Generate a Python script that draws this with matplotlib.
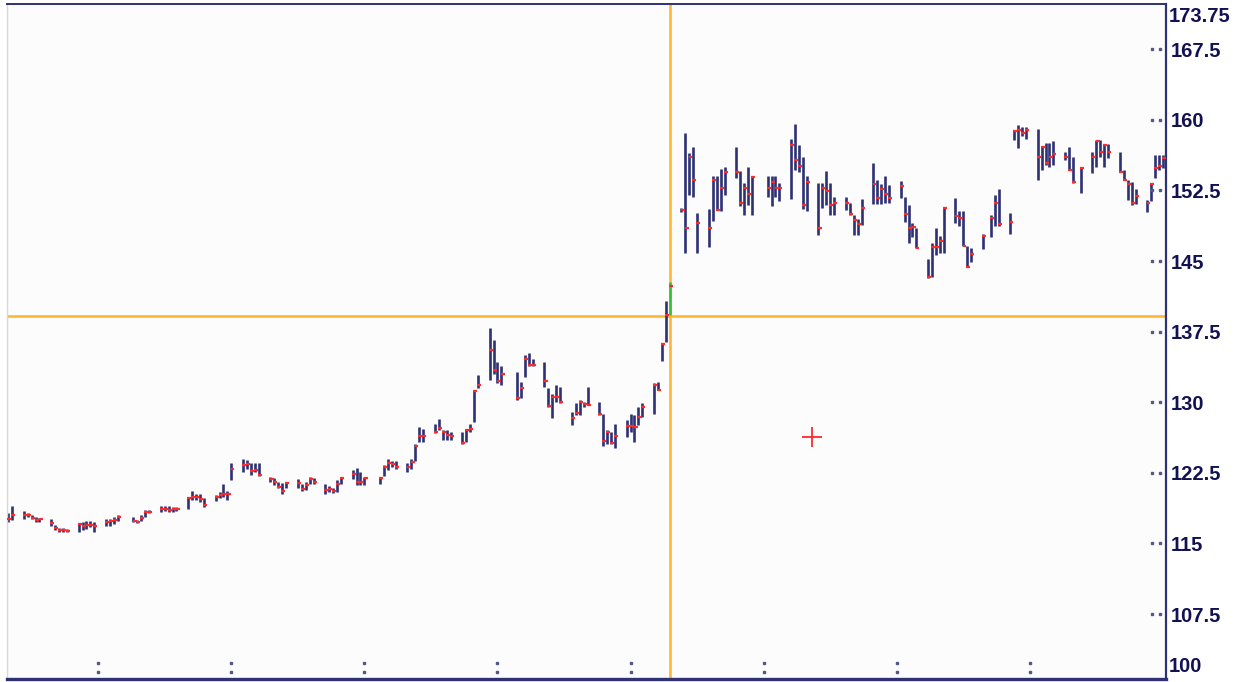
import matplotlib
matplotlib.use('Agg')
import matplotlib.pyplot as plt

# calendar day offset of each bar, with high / low / close
day = [0, 1, 4, 5, 6, 7, 8, 11, 12, 13, 14, 15, 18, 19, 20, 21, 22, 25, 26, 27, 28,
       32, 33, 34, 35, 36, 39, 40, 41, 42, 43, 46, 47, 48, 49, 50, 53, 54, 55, 56, 57,
       60, 61, 62, 63, 64, 67, 68, 69, 70, 71, 74, 75, 76, 77, 78, 81, 82, 83, 84, 85,
       88, 89, 90, 91, 95, 96, 97, 98, 99, 102, 103, 104, 105, 106, 109, 110, 111, 112, 113,
       116, 117, 118, 119, 120, 123, 124, 125, 126, 130, 131, 132, 133, 134,
       137, 138, 139, 140, 141, 144, 145, 146, 147, 148, 151, 152, 153, 154, 155,
       158, 159, 160, 161, 162, 165, 166, 167, 168, 169, 172, 173, 174, 175, 176,
       179, 180, 181, 182, 183, 186, 187, 188, 189, 190, 194, 195, 196, 197,
       200, 201, 202, 203, 204, 207, 208, 209, 210, 211, 214, 215, 216, 217, 218,
       221, 222, 223, 224, 225, 228, 229, 230, 231, 232, 235, 236, 237, 238, 239,
       242, 243, 244, 245, 246, 249, 251, 252, 253, 256, 257, 258, 259, 260,
       263, 264, 265, 266, 267, 270, 271, 272, 274, 277, 278, 279, 280, 281,
       284, 285, 286, 287, 288, 291, 292, 293, 294, 295]
high = [118.2, 119.0, 118.4, 118.2, 118.0, 117.8, 117.7, 117.6, 117.0, 116.6, 116.6, 116.5,
        117.2, 117.3, 117.4, 117.4, 117.3, 117.6, 117.6, 117.8, 118.0,
        117.8, 117.5, 118.0, 118.5, 118.5, 119.0, 119.0, 119.0, 118.9, 118.9,
        119.9, 120.6, 120.3, 120.3, 119.8, 120.1, 120.5, 121.3, 120.6, 123.5,
        124.0, 123.9, 123.5, 123.5, 123.5, 122.1, 121.9, 121.5, 121.4, 121.5,
        121.8, 121.3, 121.5, 122.1, 121.9, 121.3, 121.1, 120.9, 121.7, 122.0,
        122.8, 123.0, 122.6, 122.1, 122.1, 123.3, 124.0, 123.8, 123.8,
        123.5, 124.0, 125.6, 127.4, 127.2, 127.7, 128.2, 127.1, 127.0, 126.8,
        126.8, 127.2, 127.7, 131.3, 132.9, 137.9, 136.6, 134.3, 133.8,
        133.2, 132.2, 135.0, 135.2, 134.6, 134.3, 131.5, 130.9, 131.8, 131.6,
        129.0, 129.9, 130.2, 130.0, 131.6, 130.0, 128.8, 127.0, 126.8, 127.7,
        128.1, 128.8, 128.6, 129.5, 129.9, 132.0, 132.2, 136.2, 140.7, 142.8,
        150.6, 158.6, 156.5, 157.1, 150.1, 150.5, 154.0, 154.0, 154.8, 155.0,
        157.1, 154.6, 153.3, 155.0, 154.0, 154.0, 154.0, 154.0, 153.3,
        158.0, 159.6, 157.3, 156.0, 154.0, 153.3, 153.3, 154.6, 153.3, 151.8,
        151.8, 151.2, 149.9, 149.5, 151.6, 155.4, 153.6, 153.2, 154.0, 153.1,
        153.5, 151.8, 151.0, 149.0, 148.5, 145.2, 146.9, 148.5, 147.7, 150.7,
        151.7, 150.3, 150.3, 146.6, 146.4, 147.9, 149.9, 152.0, 152.6,
        150.1, 158.9, 159.4, 159.2, 159.2, 159.0, 157.2, 157.5, 157.5, 157.8,
        156.6, 157.1, 156.1, 154.9, 156.6, 157.9, 157.9, 157.4, 157.4,
        156.6, 154.7, 153.6, 153.4, 152.6, 151.5, 153.2, 156.3, 156.3, 156.3]
low = [117.3, 117.5, 117.6, 117.8, 117.6, 117.3, 117.3, 116.9, 116.4, 116.2, 116.2, 116.2,
       116.2, 116.4, 116.5, 116.7, 116.2, 116.8, 116.9, 117.1, 117.4,
       117.3, 117.2, 117.4, 117.8, 118.2, 118.3, 118.4, 118.3, 118.3, 118.4,
       118.7, 119.6, 119.6, 119.4, 118.9, 119.5, 119.8, 119.9, 119.6, 121.7,
       122.6, 122.9, 122.3, 122.6, 122.2, 121.5, 121.2, 120.9, 120.3, 120.9,
       120.9, 120.6, 120.7, 121.3, 121.3, 120.3, 120.5, 120.4, 120.5, 121.3,
       121.8, 121.2, 121.2, 121.2, 121.3, 122.2, 122.8, 123.1, 122.9,
       122.6, 122.9, 123.8, 125.8, 125.8, 126.7, 127.0, 126.0, 126.0, 126.0,
       125.6, 125.8, 126.8, 127.9, 131.5, 132.4, 133.0, 132.0, 131.8,
       130.2, 130.4, 132.7, 133.9, 133.8, 131.6, 129.5, 128.3, 130.0, 129.9,
       127.6, 128.6, 128.6, 129.5, 129.7, 128.6, 125.4, 125.6, 125.6, 125.1,
       126.3, 126.8, 125.8, 127.6, 128.4, 128.8, 131.3, 134.4, 136.4, 139.3,
       150.2, 145.9, 152.0, 151.8, 145.9, 146.5, 149.3, 150.4, 150.3, 152.0,
       153.8, 150.8, 149.9, 151.0, 149.9, 151.8, 150.8, 151.8, 151.4,
       151.6, 154.7, 154.5, 150.5, 150.3, 147.8, 150.6, 151.0, 149.9, 149.9,
       150.4, 149.9, 147.8, 147.8, 148.8, 151.1, 151.1, 151.1, 151.2, 151.2,
       151.7, 149.1, 146.9, 147.6, 146.4, 143.2, 143.3, 145.6, 145.8, 145.9,
       149.0, 148.7, 146.6, 144.4, 144.9, 146.3, 147.6, 148.7, 148.7,
       147.9, 157.9, 157.0, 158.3, 158.0, 153.6, 154.7, 155.2, 155.0, 155.2,
       155.7, 154.7, 153.3, 152.2, 154.4, 155.0, 156.1, 155.0, 155.9,
       154.5, 153.6, 151.5, 151.0, 151.1, 150.2, 151.4, 153.8, 154.7, 154.9]
close = [117.6, 118.0, 118.0, 118.0, 117.7, 117.5, 117.6, 117.2, 116.6, 116.4, 116.4, 116.3,
         117.1, 116.8, 117.0, 117.0, 116.9, 117.3, 117.4, 117.5, 117.8,
         117.4, 117.3, 117.7, 118.3, 118.3, 118.7, 118.7, 118.6, 118.7, 118.7,
         119.8, 119.9, 119.9, 119.7, 119.1, 119.9, 120.1, 120.2, 120.2, 122.9,
         123.3, 123.4, 122.7, 122.8, 122.3, 121.8, 121.5, 121.0, 120.6, 121.4,
         121.4, 120.8, 121.2, 121.8, 121.5, 120.7, 120.8, 120.6, 121.3, 121.9,
         122.4, 121.5, 121.5, 121.9, 122.0, 123.1, 123.5, 123.4, 123.1,
         123.1, 123.6, 125.4, 126.4, 126.4, 126.8, 127.3, 126.8, 126.5, 126.4,
         125.7, 127.0, 127.2, 131.2, 131.8, 135.5, 133.4, 132.3, 133.0,
         130.4, 131.5, 134.6, 134.0, 134.0, 132.3, 129.6, 130.6, 130.6, 130.0,
         128.3, 128.9, 130.0, 129.8, 129.7, 128.7, 125.9, 126.8, 125.7, 126.4,
         127.5, 127.5, 127.4, 128.4, 129.5, 131.8, 131.3, 136.2, 139.3, 142.3,
         150.4, 148.5, 156.0, 153.6, 149.0, 148.5, 153.6, 150.4, 152.8, 154.5,
         154.5, 151.2, 152.8, 152.1, 153.9, 152.8, 153.4, 152.8, 152.8,
         157.3, 155.7, 155.1, 150.9, 153.4, 148.5, 152.8, 152.4, 151.0, 151.2,
         151.2, 150.0, 149.4, 148.9, 150.6, 153.2, 151.7, 152.6, 152.1, 151.7,
         153.0, 150.0, 148.5, 148.6, 146.4, 143.3, 146.5, 146.5, 147.1, 150.6,
         149.8, 149.6, 146.6, 144.4, 145.7, 147.7, 149.6, 151.2, 148.9,
         149.1, 158.8, 158.9, 158.6, 158.9, 156.0, 157.1, 155.4, 156.1, 156.4,
         156.1, 154.7, 153.4, 154.9, 156.0, 157.8, 156.6, 157.3, 156.6,
         154.5, 153.6, 153.2, 151.2, 151.9, 151.2, 153.2, 154.9, 155.1, 155.9]

cursor_day = 169        # bar under the crosshair
cursor_price = 139.15
marker_day = 205.4      # red cross
marker_price = 126.3
grid_days = [23, 57, 91, 125, 159, 193, 227, 261]
price_ticks = [107.5, 115, 122.5, 130, 137.5, 145, 152.5, 160, 167.5]

navy = '#2e3173'
red = '#ff2a2a'
orange = '#ffb733'
green = '#34c234'
label_col = '#121252'
fam = ['Liberation Sans', 'DejaVu Sans']

fig = plt.figure(figsize=(12.43, 6.82), dpi=100, facecolor='white')
ax = fig.add_axes([7 / 1243, 3 / 682, 1158.7 / 1243, 675 / 682])
ax.set_facecolor('#fcfcfc')

# crosshair behind the bars
ax.axvline(cursor_day, color=orange, lw=1.9, zorder=1)
ax.axhline(cursor_price, color=orange, lw=1.9, zorder=1)

norm = [i for i, d in enumerate(day) if d != cursor_day]
cur = [i for i, d in enumerate(day) if d == cursor_day]
ax.vlines([day[i] for i in norm], [low[i] for i in norm], [high[i] for i in norm],
          color=navy, lw=1.9, zorder=2)
ax.vlines([day[i] for i in cur], [low[i] for i in cur], [high[i] for i in cur],
          color=green, lw=1.9, zorder=2)
ax.hlines(close, [d - 0.2 for d in day], [d + 0.8 for d in day], color=red, lw=1.6, zorder=3)

ax.plot([marker_day], [marker_price], marker='+', color=red, ms=14, mew=1.3, zorder=4)

ax.set_xlim(-0.3, 295.7)
ax.set_ylim(100.6, 172.3)

# dotted tick marks
ytr = ax.get_yaxis_transform()
for p in price_ticks:
    ax.plot([0.9884, 0.9951], [p, p], ls='none', marker='s', ms=1.5, color='#55578a',
            transform=ytr, clip_on=False)
xtr = ax.get_xaxis_transform()
for g in grid_days:
    ax.plot([g, g], [0.0104, 0.0237], ls='none', marker='s', ms=1.5, color='#55578a',
            transform=xtr, clip_on=False)

ax.set_xticks([])
ax.yaxis.tick_right()
ax.set_yticks(price_ticks)
ax.set_yticklabels(['{:g}'.format(p) for p in price_ticks])
ax.tick_params(axis='y', length=0, pad=3.5, labelsize=14.5, labelcolor=label_col)
for lab in ax.get_yticklabels():
    lab.set_fontweight('bold')
    lab.set_family(fam)
ax.text(1.003, 0.981, '173.75', transform=ax.transAxes, ha='left', va='center',
        fontsize=14.5, fontweight='bold', color=label_col, family=fam)
ax.text(1.003, 0.0178, '100', transform=ax.transAxes, ha='left', va='center',
        fontsize=14.5, fontweight='bold', color=label_col, family=fam)

ax.spines['left'].set_color('#d8d8d8')
ax.spines['left'].set_linewidth(1)
ax.spines['right'].set_color(navy)
ax.spines['right'].set_linewidth(1.6)
ax.spines['top'].set_color(navy)
ax.spines['top'].set_linewidth(1.4)
ax.spines['bottom'].set_color(navy)
ax.spines['bottom'].set_linewidth(2.4)

fig.savefig('out.png', dpi=100, facecolor='white')
